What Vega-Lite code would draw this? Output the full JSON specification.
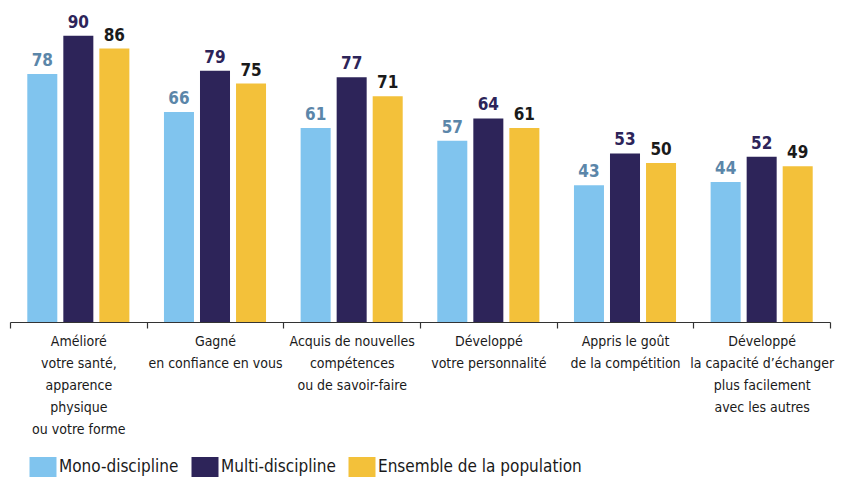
{
  "$schema": "https://vega.github.io/schema/vega-lite/v6.json",
  "width": 820,
  "height": 318,
  "autosize": {"type": "none"},
  "padding": {"left": 10, "top": 4, "right": 14, "bottom": 159},
  "background": "white",
  "config": {
    "view": {"stroke": null},
    "font": "DejaVu Sans Condensed"
  },
  "resolve": {"scale": {"color": "independent"}},
  "data": {
    "values": [
      {"cat": "Amélioré|votre santé,|apparence|physique|ou votre forme", "serie": "Mono-discipline", "v": 78},
      {"cat": "Amélioré|votre santé,|apparence|physique|ou votre forme", "serie": "Multi-discipline", "v": 90},
      {"cat": "Amélioré|votre santé,|apparence|physique|ou votre forme", "serie": "Ensemble de la population", "v": 86},
      {"cat": "Gagné|en confiance en vous", "serie": "Mono-discipline", "v": 66},
      {"cat": "Gagné|en confiance en vous", "serie": "Multi-discipline", "v": 79},
      {"cat": "Gagné|en confiance en vous", "serie": "Ensemble de la population", "v": 75},
      {"cat": "Acquis de nouvelles|compétences|ou de savoir-faire", "serie": "Mono-discipline", "v": 61},
      {"cat": "Acquis de nouvelles|compétences|ou de savoir-faire", "serie": "Multi-discipline", "v": 77},
      {"cat": "Acquis de nouvelles|compétences|ou de savoir-faire", "serie": "Ensemble de la population", "v": 71},
      {"cat": "Développé|votre personnalité", "serie": "Mono-discipline", "v": 57},
      {"cat": "Développé|votre personnalité", "serie": "Multi-discipline", "v": 64},
      {"cat": "Développé|votre personnalité", "serie": "Ensemble de la population", "v": 61},
      {"cat": "Appris le goût|de la compétition", "serie": "Mono-discipline", "v": 43},
      {"cat": "Appris le goût|de la compétition", "serie": "Multi-discipline", "v": 53},
      {"cat": "Appris le goût|de la compétition", "serie": "Ensemble de la population", "v": 50},
      {"cat": "Développé|la capacité d’échanger|plus facilement|avec les autres", "serie": "Mono-discipline", "v": 44},
      {"cat": "Développé|la capacité d’échanger|plus facilement|avec les autres", "serie": "Multi-discipline", "v": 52},
      {"cat": "Développé|la capacité d’échanger|plus facilement|avec les autres", "serie": "Ensemble de la population", "v": 49}
    ]
  },
  "encoding": {
    "x": {
      "field": "cat", "type": "nominal", "sort": null, "title": null,
      "scale": {"paddingInner": 0, "paddingOuter": 0},
      "axis": {
        "labelAngle": 0,
        "labelExpr": "split(datum.label, '|')",
        "labelFontSize": 14,
        "labelColor": "#1a1a1a",
        "labelLineHeight": 22,
        "labelBaseline": "top",
        "labelPadding": 6,
        "labelLimit": 200,
        "tickBand": "extent",
        "tickSize": 6,
        "tickColor": "#333",
        "domainColor": "#333",
        "domainWidth": 1.2,
        "tickWidth": 1.2
      }
    },
    "xOffset": {
      "field": "serie", "type": "nominal", "sort": ["Mono-discipline", "Multi-discipline", "Ensemble de la population"],
      "scale": {"paddingInner": 0.167, "paddingOuter": 0.48}
    },
    "y": {
      "field": "v", "type": "quantitative",
      "scale": {"domain": [0, 100]},
      "axis": null
    }
  },
  "layer": [
    {
      "mark": {"type": "bar"},
      "encoding": {
        "color": {
          "field": "serie", "type": "nominal",
          "sort": ["Mono-discipline", "Multi-discipline", "Ensemble de la population"],
          "scale": {
            "domain": ["Mono-discipline", "Multi-discipline", "Ensemble de la population"],
            "range": ["#80C4EE", "#2D2459", "#F3C13A"]
          },
          "legend": {
            "title": null,
            "orient": "none",
            "direction": "horizontal",
            "legendX": 23,
            "legendY": 453,
            "symbolType": "M-1.35,-1H1.35V1H-1.35Z",
            "symbolSize": 400,
            "symbolStrokeWidth": 0,
            "labelFontSize": 17,
            "labelColor": "#1a1a1a",
            "labelOffset": 6,
            "columnPadding": 12,
            "labelLimit": 300
          }
        }
      }
    },
    {
      "mark": {"type": "text", "baseline": "bottom", "dy": -4, "fontSize": 17, "fontWeight": "bold"},
      "encoding": {
        "text": {"field": "v", "type": "quantitative"},
        "color": {
          "field": "serie", "type": "nominal",
          "scale": {
            "domain": ["Mono-discipline", "Multi-discipline", "Ensemble de la population"],
            "range": ["#5B86A9", "#2D2459", "#1a1a1a"]
          },
          "legend": null
        }
      }
    }
  ]
}
